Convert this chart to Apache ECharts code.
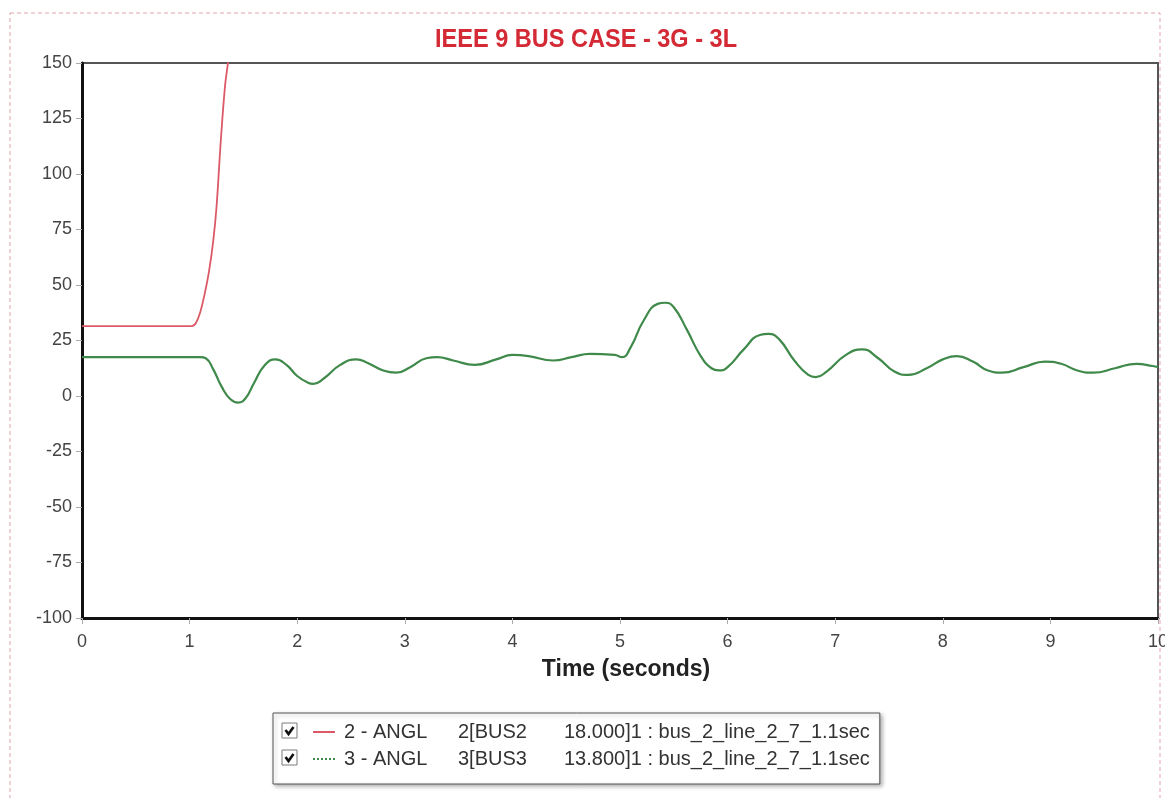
<!DOCTYPE html>
<html>
<head>
<meta charset="utf-8">
<script src="https://cdn.jsdelivr.net/npm/echarts@6/dist/echarts.min.js"></script>
<style>
  html, body { margin: 0; padding: 0; background: #fff; }
  #chart { width: 1165px; height: 798px; }
</style>
</head>
<body>
<div id="chart"></div>
<script>
// Rotor angle traces (degrees) vs time (seconds)
const seriesNames = ['2 - ANGL', '3 - ANGL'];
const busLabels = ['2[BUS2', '3[BUS3'];
const infoLabels = ['18.000]1 : bus_2_line_2_7_1.1sec', '13.800]1 : bus_2_line_2_7_1.1sec'];
const seriesColors = ['#dc5a68', '#3f8a4a'];

const bus2Time  = [0, 1.02, 1.06, 1.10, 1.14, 1.18, 1.22, 1.25, 1.29, 1.33, 1.36, 1.40];
const bus2Angle = [31.5, 31.5, 33, 38, 46, 56, 70, 85, 115, 140, 152, 180];

const bus3Time = [0, 1.10, 1.15, 1.22, 1.30, 1.38, 1.45, 1.52, 1.60, 1.70, 1.80, 1.90, 2.00, 2.10, 2.15,
  2.25, 2.40, 2.55, 2.65, 2.80, 2.92, 3.05, 3.20, 3.30, 3.45, 3.65, 3.85, 4.00, 4.15, 4.38, 4.55,
  4.72, 4.95, 5.02, 5.10, 5.22, 5.35, 5.42, 5.50, 5.62, 5.75, 5.85, 5.92, 6.00, 6.15, 6.30, 6.38,
  6.48, 6.62, 6.75, 6.82, 6.92, 7.10, 7.25, 7.40, 7.55, 7.68, 7.85, 8.00, 8.13, 8.28, 8.42, 8.55,
  8.75, 8.95, 9.10, 9.25, 9.40, 9.60, 9.80, 9.95, 10.0];
const bus3Angle = [17.5, 17.5, 17, 12, 4, -1.5, -3, -1, 6, 14, 16.5, 14, 9, 6, 5.5,
  8, 14, 16.5, 15, 11.5, 10.5, 13, 17, 17.5, 16, 14, 16.5, 18.5, 18, 16, 17.5,
  19, 18.5, 17.5, 22, 34, 41.5, 42, 40, 30, 18, 12.5, 11.5, 13, 21, 27.5, 28,
  25.5, 16, 9.5, 8.5, 11, 18.5, 21, 17, 11, 9.5, 12.5, 16.5, 18, 15.5, 11.5, 10.5,
  13, 15.5, 14.5, 11.5, 10.5, 12.5, 14.5, 13.5, 13];

const xTicks = { min: 0, max: 10, interval: 1 };
const yTicks = { min: -100, max: 150, interval: 25 };

const pair = (ts, vs) => ts.map((t, i) => [t, vs[i]]);
const FONT = '"Liberation Sans", Arial, sans-serif';

const chart = echarts.init(document.getElementById('chart'), null, { renderer: 'canvas' });

// checkbox glyph drawn in front of each legend row
function checkbox(x, y) {
  return {
    type: 'group', x: x, y: y, silent: true, z: 100,
    children: [
      { type: 'rect', z: 100, shape: { x: 0, y: 0, width: 15, height: 15 },
        style: { fill: '#fff', stroke: '#7a7a7a', lineWidth: 1 } },
      { type: 'polyline', z: 101, shape: { points: [[3.5, 7], [6.5, 11], [11.5, 4]] },
        style: { stroke: '#111', lineWidth: 2.6, fill: null } }
    ]
  };
}

chart.setOption({
  animation: false,
  backgroundColor: '#fff',
  grid: {
    left: 82, right: 7, top: 63, bottom: 180,
    outerBoundsMode: 'none',
    show: true, borderColor: '#555', borderWidth: 2, backgroundColor: '#fff'
  },
  xAxis: {
    type: 'value', min: xTicks.min, max: xTicks.max, interval: xTicks.interval,
    name: 'Time (seconds)', nameLocation: 'middle', nameGap: 40,
    nameTextStyle: { color: '#222', fontSize: 23, fontWeight: 'bold', fontFamily: FONT, padding: [0, 0, 0, 12] },
    axisLine: { show: true, onZero: false, lineStyle: { color: '#111', width: 3 } },
    axisTick: { show: true, length: 6, lineStyle: { color: '#aaa' } },
    axisLabel: { color: '#444', fontSize: 18, margin: 15, fontFamily: FONT },
    splitLine: { show: false }
  },
  yAxis: {
    type: 'value', min: yTicks.min, max: yTicks.max, interval: yTicks.interval,
    axisLine: { show: true, onZero: false, lineStyle: { color: '#111', width: 3 } },
    axisTick: { show: true, length: 6, lineStyle: { color: '#aaa' } },
    axisLabel: { color: '#444', fontSize: 18, margin: 10, fontFamily: FONT },
    splitLine: { show: false }
  },
  legend: {
    orient: 'vertical',
    left: 273, top: 713,
    padding: [8, 10, 14, 39],
    itemGap: 5, itemWidth: 22, itemHeight: 14,
    selectedMode: false,
    borderColor: '#555', borderWidth: 1,
    shadowColor: 'rgba(0,0,0,0.3)', shadowBlur: 4, shadowOffsetX: 2, shadowOffsetY: 2,
    backgroundColor: '#fff',
    data: [
      { name: seriesNames[0], itemStyle: { opacity: 0 }, lineStyle: { type: 'solid', width: 2 } },
      { name: seriesNames[1], itemStyle: { opacity: 0 }, lineStyle: { type: 'dotted', width: 2 } }
    ],
    formatter: function (name) {
      const i = seriesNames.indexOf(name);
      return '{a|' + name + '}{b|' + busLabels[i] + '}{c|' + infoLabels[i] + '}';
    },
    textStyle: {
      fontFamily: FONT, fontSize: 20, color: '#333', lineHeight: 22,
      rich: {
        a: { width: 114, fontSize: 20, color: '#333', fontFamily: FONT, padding: [0, 0, 0, 4] },
        b: { width: 106, fontSize: 20, color: '#333', fontFamily: FONT },
        c: { fontSize: 20, color: '#333', fontFamily: FONT }
      }
    }
  },
  graphic: [
    {
      type: 'rect', silent: true,
      shape: { x: 10, y: 13, width: 1150, height: 790 },
      style: { fill: null, stroke: '#e3a3a8', lineWidth: 1, lineDash: [4, 3] }
    },
    {
      type: 'text', silent: true,
      x: 586, y: 40, scaleX: 0.905, originX: 0,
      style: {
        text: 'IEEE 9 BUS CASE - 3G - 3L',
        fill: '#d42a35', font: 'bold 26px "Liberation Sans", Arial, sans-serif',
        align: 'center', verticalAlign: 'middle'
      }
    },
    checkbox(282, 723),
    checkbox(282, 750)
  ],
  series: [
    {
      name: seriesNames[0], type: 'line', symbol: 'none', clip: true,
      smooth: 0.4,
      data: pair(bus2Time, bus2Angle),
      lineStyle: { color: seriesColors[0], width: 1.8 },
      itemStyle: { color: seriesColors[0] }
    },
    {
      name: seriesNames[1], type: 'line', symbol: 'none', clip: true,
      smooth: 0.5,
      data: pair(bus3Time, bus3Angle),
      lineStyle: { color: seriesColors[1], width: 2.2 },
      itemStyle: { color: seriesColors[1] }
    }
  ]
});
</script>
</body>
</html>
